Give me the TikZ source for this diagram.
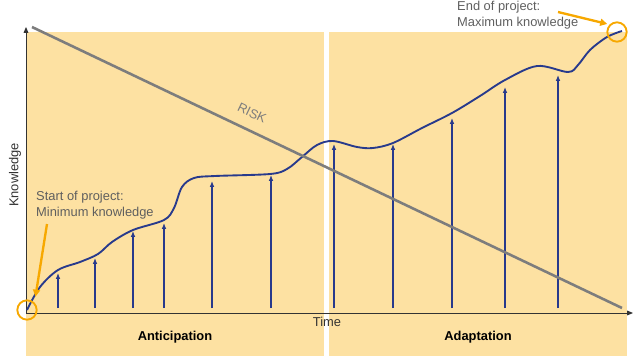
\documentclass[tikz,border=0pt]{standalone}
\usepackage{fontspec}
\setmainfont{Liberation Sans}
\usetikzlibrary{arrows.meta}
\definecolor{phasefill}{RGB}{253,225,162}
\definecolor{markorange}{RGB}{247,168,0}
\definecolor{curveblue}{RGB}{40,58,140}
\definecolor{riskgray}{RGB}{125,125,125}
\definecolor{notegray}{RGB}{95,95,95}
\tikzset{
  lbl/.style={font=\fontsize{11}{13.5}\selectfont, text=black!80},
  note/.style={font=\fontsize{11}{13.5}\selectfont, text=notegray, align=left, anchor=west, inner sep=0pt},
  phase/.style={font=\fontsize{11}{13.5}\selectfont\bfseries},
  ring/.style={circle, draw=markorange, line width=1.6pt, minimum size=0.58cm, inner sep=0pt},
  pointer/.style={markorange, line width=2pt, -{Triangle[length=6pt,width=6pt]}}
}
\begin{document}
\begin{tikzpicture}[x=0.03cm, y=-0.03cm]
		\useasboundingbox (0,0) rectangle (640,358);
		\fill[phasefill] (26,32) rectangle (324,356);
		\fill[phasefill] (329,32) rectangle (627,356);
		%\draw[help lines] (0,0) grid[step=50] (640,358);
		\draw[black!80, line width=0.8pt, -{Triangle[length=5pt,width=4pt]}] (26,313) -- (633,313);
		\draw[black!80, line width=0.8pt, -{Triangle[length=5pt,width=4pt]}] (26,313) -- (26,27);
		\node[lbl, rotate=90] (ylabel) at (15,175) {Knowledge};
		\node[lbl] (xlabel) at (327,322) {Time};
		\node[phase] (anticipation) at (175,337) {Anticipation};
		\node[phase] (adaptation) at (478,337) {Adaptation};
		% knowledge curve
		\draw[curveblue, line width=1.6pt] plot[smooth, tension=0.55] coordinates {
			(27,310) (40,287) (58,270) (80,262) (98,254) (112,242) (133,230)
			(164,220) (174,208) (182,187) (194,178) (215,176) (270,174)
			(287,169) (302,157) (317,145) (333,141) (357,147) (373,148)
			(393,143) (422,128) (452,113) (480,96) (505,80) (537,66)
			(568,72) (578,65) (590,50) (607,37) (622,31)};
		\foreach \xx/\yy in {58/273, 95/258, 133/231, 164/223, 212/181, 271/175,
			334/144, 393/144, 452/118, 505/87, 558/75}
			\draw[curveblue, line width=1.4pt, -{Latex[length=5pt,width=4pt]}] (\xx,308) -- (\xx,\yy);
		% risk
		\draw[riskgray, line width=2.2pt] (32,27) -- (622,308);
		\node[riskgray, rotate=-25.5, font=\fontsize{11}{13.5}\selectfont] (risk) at (252,113) {RISK};
		% start and end of project
		\node[ring] (startmark) at (27,310) {};
		\node[ring] (endmark) at (617,32) {};
		\node[note] (starttext) at (36,205) {Start of project:\\Minimum knowledge};
		\node[note] (endtext) at (457,15) {End of project:\\Maximum knowledge};
		\coordinate (startfrom) at (47,224);
		\coordinate (endfrom) at (558,12);
		\draw[pointer, shorten >=5pt] (startfrom) -- (startmark.north east);
		\draw[pointer, shorten >=2pt] (endfrom) -- (endmark.north west);
	\end{tikzpicture}
\end{document}
